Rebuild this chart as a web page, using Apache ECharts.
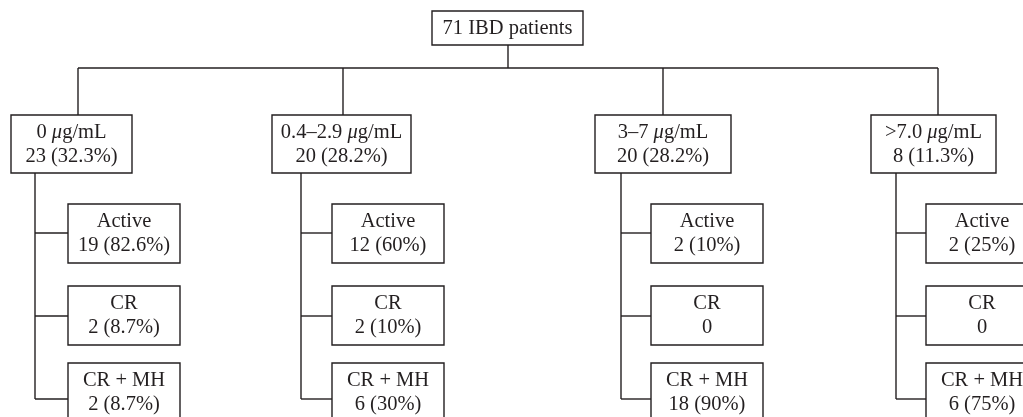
<!DOCTYPE html>
<html>
<head>
<meta charset="utf-8">
<script src="https://cdn.jsdelivr.net/npm/echarts@6/dist/echarts.min.js"></script>
<style>
  html, body { margin: 0; padding: 0; background: #fff; }
  #chart { width: 1023px; height: 417px; }
</style>
</head>
<body>
<div id="chart"></div>
<script>
// ---- data ----
const totalPatients = 71;
const rootLabel = '71 IBD patients';
const groupLabels = ['0 {i|μ}g/mL', '0.4–2.9 {i|μ}g/mL', '3–7 {i|μ}g/mL', '>7.0 {i|μ}g/mL'];
const groupCounts = [23, 20, 20, 8];
const groupPercents = ['32.3%', '28.2%', '28.2%', '11.3%'];
const outcomeLabels = ['Active', 'CR', 'CR + MH'];
const activeCounts = [19, 12, 2, 2];
const activePercents = ['82.6%', '60%', '10%', '25%'];
const crCounts = [2, 2, 0, 0];
const crPercents = ['8.7%', '10%', null, null];
const crmhCounts = [2, 6, 18, 6];
const crmhPercents = ['8.7%', '30%', '90%', '75%'];

// ---- layout (diagram geometry, in axis units) ----
const L = {
  rootBox: [432, 11, 583, 45],
  rootStemX: 508,
  busY: 68,
  groupDropX: [78, 343, 663, 938],
  groupLeft: [11, 272, 595, 871],
  groupRight: [132, 411, 731, 996],
  groupTop: 115,
  groupBottom: 173,
  trunkX: [35, 301, 621, 896],
  leafLeft: [68, 332, 651, 926],
  leafWidth: 112,
  leafTop: [204, 286, 363],
  leafHeight: 59,
  branchY: [233, 316, 399]
};
const INK = '#231f20';
const FONT = 'Liberation Serif';
const FS = 20.5;
const LH = 24;

function fmt(count, pct) { return pct ? count + ' (' + pct + ')' : String(count); }
const outcomeCounts = [activeCounts, crCounts, crmhCounts];
const outcomePercents = [activePercents, crPercents, crmhPercents];

// nodes: [kind, col, row]
const nodes = [['root', 0, 0]];
groupLabels.forEach((g, c) => {
  nodes.push(['group', c, 0]);
  outcomeLabels.forEach((o, r) => nodes.push(['leaf', c, r]));
});

function box(api, x0, y0, x1, y1, text) {
  const p0 = api.coord([x0, y0]);
  const p1 = api.coord([x1, y1]);
  const cx = (p0[0] + p1[0]) / 2, cy = (p0[1] + p1[1]) / 2 + 0.5;
  return [
    { type: 'rect', shape: { x: p0[0], y: p0[1], width: p1[0] - p0[0], height: p1[1] - p0[1] },
      style: { fill: '#fff', stroke: INK, lineWidth: 1.4 } },
    { type: 'text', style: { text: text, x: cx, y: cy, align: 'center', verticalAlign: 'middle',
      fontFamily: FONT, fontSize: FS, lineHeight: LH, fill: INK,
      rich: { i: { fontFamily: FONT, fontSize: FS, fontStyle: 'italic', fill: INK, lineHeight: LH } } } }
  ];
}
function line(api, pts) {
  return { type: 'polyline', shape: { points: pts.map(p => api.coord(p)) },
    style: { stroke: INK, lineWidth: 1.4, fill: null } };
}

function renderItem(params, api) {
  const n = nodes[params.dataIndex];
  const kind = n[0], c = n[1], r = n[2];
  const children = [];
  if (kind === 'root') {
    children.push(line(api, [[L.rootStemX, L.rootBox[3]], [L.rootStemX, L.busY]]));
    children.push(line(api, [[L.groupDropX[0], L.busY], [L.groupDropX[L.groupDropX.length - 1], L.busY]]));
    children.push(...box(api, L.rootBox[0], L.rootBox[1], L.rootBox[2], L.rootBox[3], rootLabel));
  } else if (kind === 'group') {
    children.push(line(api, [[L.groupDropX[c], L.busY], [L.groupDropX[c], L.groupTop]]));
    children.push(line(api, [[L.trunkX[c], L.groupBottom], [L.trunkX[c], L.branchY[L.branchY.length - 1]]]));
    children.push(...box(api, L.groupLeft[c], L.groupTop, L.groupRight[c], L.groupBottom,
      groupLabels[c] + '\n' + fmt(groupCounts[c], groupPercents[c])));
  } else {
    children.push(line(api, [[L.trunkX[c], L.branchY[r]], [L.leafLeft[c], L.branchY[r]]]));
    children.push(...box(api, L.leafLeft[c], L.leafTop[r], L.leafLeft[c] + L.leafWidth, L.leafTop[r] + L.leafHeight,
      outcomeLabels[r] + '\n' + fmt(outcomeCounts[r][c], outcomePercents[r][c])));
  }
  return { type: 'group', children: children };
}

const chart = echarts.init(document.getElementById('chart'));
chart.setOption({
  animation: false,
  grid: { left: 0, right: 0, top: 0, bottom: 0 },
  xAxis: { type: 'value', min: 0, max: 1023, show: false },
  yAxis: { type: 'value', min: 0, max: 417, inverse: true, show: false },
  series: [{
    type: 'custom',
    coordinateSystem: 'cartesian2d',
    clip: false,
    data: nodes.map((n, i) => [i, 0]),
    renderItem: renderItem,
    silent: true
  }]
});
</script>
</body>
</html>
